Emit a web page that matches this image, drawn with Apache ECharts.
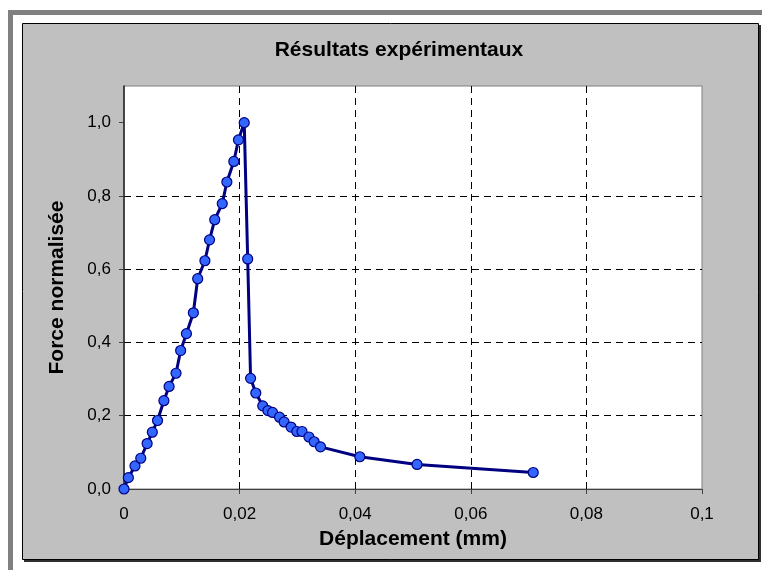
<!DOCTYPE html>
<html>
<head>
<meta charset="utf-8">
<style>
html,body{margin:0;padding:0;background:#fff;}
#chart{width:762px;height:570px;}
</style>
<script src="https://cdn.jsdelivr.net/npm/echarts@6/dist/echarts.min.js"></script>
</head>
<body>
<div id="chart"></div>
<script>
const chartTitle = 'Résultats expérimentaux';
const xTitle = 'Déplacement (mm)';
const yTitle = 'Force normalisée';
const displacement = [0, 0.00075, 0.0019, 0.0029, 0.0040, 0.0049, 0.0058, 0.0069, 0.0078, 0.0090,
  0.0098, 0.0108, 0.0120, 0.01275, 0.0140, 0.0148, 0.0157, 0.0170, 0.0178, 0.0190,
  0.0198, 0.0208, 0.0214, 0.0219, 0.0228, 0.0240, 0.0249, 0.0257, 0.0269, 0.0277,
  0.0289, 0.0299, 0.0308, 0.0320, 0.0329, 0.0340, 0.0408, 0.0507, 0.0708];
const force = [0, 0.031, 0.063, 0.084, 0.124, 0.155, 0.187, 0.241, 0.280, 0.316,
  0.378, 0.424, 0.481, 0.574, 0.623, 0.680, 0.735, 0.779, 0.838, 0.894,
  0.953, 1.000, 0.628, 0.302, 0.262, 0.227, 0.214, 0.209, 0.196, 0.183,
  0.169, 0.157, 0.157, 0.142, 0.129, 0.115, 0.088, 0.067, 0.045];
const xTicks = [0, 0.02, 0.04, 0.06, 0.08, 0.1];
const yTicks = [0, 0.2, 0.4, 0.6, 0.8, 1.0];

const FONT = "'Liberation Sans', Arial, sans-serif";
const points = displacement.map((x, i) => [x, force[i]]);
const chart = echarts.init(document.getElementById('chart'), null, {renderer: 'canvas'});
chart.setOption({
  animation: false,
  backgroundColor: '#ffffff',
  graphic: [
    {type: 'rect', z: -20, silent: true, shape: {x: 8, y: 10, width: 754, height: 5}, style: {fill: '#808080'}},
    {type: 'rect', z: -20, silent: true, shape: {x: 8, y: 10, width: 5, height: 560}, style: {fill: '#808080'}},
    {type: 'rect', z: -19, silent: true, shape: {x: 24, y: 25, width: 737, height: 537}, style: {fill: '#303030'}},
    {type: 'rect', z: -18, silent: true, shape: {x: 22.5, y: 23.5, width: 736, height: 536}, style: {fill: '#c0c0c0', stroke: '#000', lineWidth: 1}}
  ],
  title: {
    text: chartTitle,
    left: 394,
    top: 35,
    textAlign: 'center',
    textStyle: {fontFamily: FONT, fontSize: 21, fontWeight: 'bold', color: '#000'}
  },
  grid: {
    left: 124, right: 60, top: 86, bottom: 81,
    show: true, backgroundColor: '#ffffff', borderColor: '#808080', borderWidth: 1
  },
  xAxis: {
    type: 'value', min: 0, max: 0.1, interval: 0.02,
    name: xTitle, nameLocation: 'middle', nameGap: 40,
    nameTextStyle: {fontFamily: FONT, fontSize: 21, fontWeight: 'bold', color: '#000'},
    axisLine: {show: true, onZero: false, lineStyle: {color: '#404040', width: 1}},
    axisTick: {show: true, inside: false, length: 5, customValues: xTicks, lineStyle: {color: '#404040'}},
    axisLabel: {margin: 17, customValues: xTicks, fontFamily: FONT, fontSize: 17, color: '#000',
      formatter: v => String(Number(v.toFixed(2))).replace('.', ',')},
    splitLine: {show: true, showMinLine: false, showMaxLine: false, lineStyle: {color: '#000', type: [7, 5], width: 1}}
  },
  yAxis: {
    type: 'value', min: 0, max: 1.1, interval: 0.2,
    name: yTitle, nameLocation: 'middle', nameGap: 56, nameRotate: 90,
    nameTextStyle: {fontFamily: FONT, fontSize: 21, fontWeight: 'bold', color: '#000'},
    axisLine: {show: true, lineStyle: {color: '#202020', width: 1.5}},
    axisTick: {show: true, inside: false, length: 5, customValues: yTicks, lineStyle: {color: '#404040'}},
    axisLabel: {margin: 13, customValues: yTicks, fontFamily: FONT, fontSize: 17, color: '#000',
      formatter: v => v.toFixed(1).replace('.', ',')},
    splitLine: {show: true, showMinLine: false, showMaxLine: false, lineStyle: {color: '#000', type: [7, 5], width: 1}}
  },
  series: [{
    type: 'line',
    data: points,
    clip: false,
    symbol: 'circle',
    symbolSize: 10,
    lineStyle: {color: '#000080', width: 3},
    itemStyle: {color: '#3366ff', borderColor: '#000080', borderWidth: 1.2},
    z: 5
  }]
});
</script>
</body>
</html>
